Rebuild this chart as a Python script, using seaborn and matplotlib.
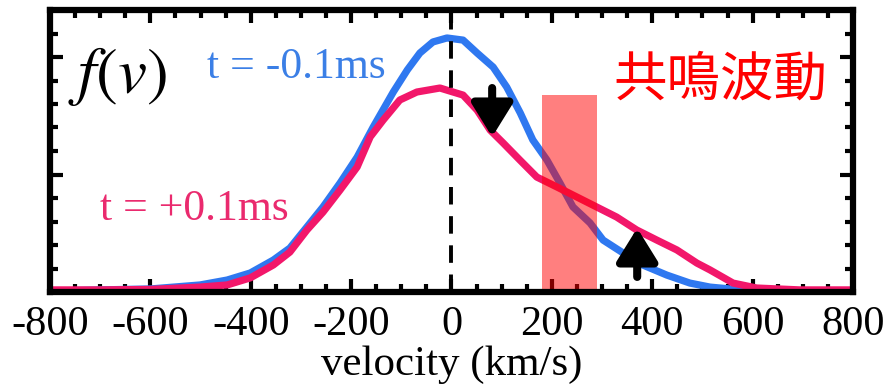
import numpy as np
import pandas as pd
import matplotlib
matplotlib.use("Agg")
import matplotlib.pyplot as plt
from matplotlib.ticker import MultipleLocator
import seaborn as sns

# ---- data ----
velocity_before = [-800, -700, -600, -501, -447, -401, -355, -322, -288, -256, -222, -188,
                   -156, -116, -88, -63, -37, -9, 23, 51, 83, 110, 137, 162, 190, 216,
                   242, 276, 302, 342, 381, 429, 475, 515, 575, 694, 800]
f_before = [0.004, 0.009, 0.013, 0.030, 0.051, 0.081, 0.136, 0.187, 0.277, 0.362, 0.464, 0.574,
            0.702, 0.851, 0.945, 1.017, 1.064, 1.081, 1.072, 1.017, 0.957, 0.872, 0.762, 0.647,
            0.562, 0.464, 0.362, 0.294, 0.221, 0.166, 0.115, 0.072, 0.038, 0.021, 0.009, 0.004, 0.004]

velocity_after = [-800, -700, -600, -501, -447, -401, -355, -322, -288, -256, -222, -188,
                  -162, -136, -103, -69, -23, 3, 23, 51, 77, 103, 136, 170, 210, 250,
                  289, 329, 369, 409, 449, 489, 515, 561, 608, 694, 800]
f_after = [0.009, 0.009, 0.011, 0.021, 0.030, 0.060, 0.115, 0.170, 0.264, 0.340, 0.434, 0.532,
           0.660, 0.732, 0.817, 0.851, 0.868, 0.851, 0.838, 0.774, 0.689, 0.634, 0.562, 0.489,
           0.447, 0.404, 0.362, 0.319, 0.264, 0.221, 0.179, 0.123, 0.094, 0.038, 0.017, 0.009, 0.009]

series_labels = ["t = -0.1ms", "t = +0.1ms"]
series_colors = ["#2f78f0", "#f2176a"]
xtick_values = [-800, -600, -400, -200, 0, 200, 400, 600, 800]
resonance_band = [180, 290]
resonance_top = 0.84
arrow_down = {"x": 81, "from": 0.868, "to": 0.66}
arrow_up = {"x": 370, "from": 0.064, "to": 0.272}

df = pd.concat([
    pd.DataFrame({"velocity": velocity_before, "f": f_before, "time": series_labels[0]}),
    pd.DataFrame({"velocity": velocity_after, "f": f_after, "time": series_labels[1]}),
], ignore_index=True)

sns.set_theme(style="ticks")
plt.rcParams["font.family"] = ["Liberation Serif", "DejaVu Serif"]
plt.rcParams["axes.unicode_minus"] = False
plt.rcParams["text.color"] = "black"
plt.rcParams["axes.labelcolor"] = "black"

fig = plt.figure(figsize=(8.95, 3.85), dpi=100)
ax = fig.add_axes([50 / 895, 1 - 292 / 385, (853 - 50) / 895, (292 - 10) / 385])

sns.lineplot(data=df, x="velocity", y="f", hue="time", palette=series_colors,
             linewidth=5.2, legend=False, ax=ax, sort=False, zorder=2)

ax.axvline(0, color="black", linewidth=2.8, dashes=(4.5, 3.0), zorder=3)

ax.add_patch(plt.Rectangle((resonance_band[0], -0.008), resonance_band[1] - resonance_band[0],
                           resonance_top + 0.008, facecolor="#ff0000", alpha=0.5,
                           edgecolor="none", zorder=4, clip_on=False))

for arr in (arrow_down, arrow_up):
    ax.annotate("", xy=(arr["x"], arr["to"]), xytext=(arr["x"], arr["from"]),
                arrowprops=dict(arrowstyle="-|>,head_length=1.0,head_width=0.62",
                                mutation_scale=20, color="black", linewidth=5.8,
                                shrinkA=0, shrinkB=0), zorder=5)

ax.set_xlim(-800, 800)
ax.set_ylim(0, 1.2)
ax.set_xticks(xtick_values)
ax.set_xticklabels([str(v) for v in xtick_values])
ax.xaxis.set_minor_locator(MultipleLocator(50))
ax.yaxis.set_major_locator(MultipleLocator(0.5))
ax.yaxis.set_minor_locator(MultipleLocator(0.1))
ax.set_yticklabels([])
ax.set_ylabel("")
ax.set_xlabel("velocity (km/s)", fontsize=31, labelpad=1, color="black")

ax.tick_params(which="both", direction="in", top=True, right=True, width=3.0,
               color="black", labelcolor="black")
ax.tick_params(which="major", length=9.5, labelsize=30.5, pad=10)
ax.tick_params(which="minor", length=6.0)
for s in ax.spines.values():
    s.set_linewidth(4.5)
    s.set_color("black")
    s.set_zorder(6)

ax.text(-765, 0.847, r"$f(v)$", fontsize=47, ha="left", va="baseline", color="black",
        math_fontfamily="stix")
ax.text(-487, 0.91, series_labels[0], fontsize=31.5, ha="left", va="baseline",
        color="#3b7fe6")
ax.text(-700, 0.306, series_labels[1], fontsize=31.5, ha="left", va="baseline",
        color="#ea2a6e")
ax.text(322, 0.902, "共鳴波動", fontsize=38.5, ha="left", va="center", color="#ff0000",
        family=["Noto Sans CJK TC", "DejaVu Sans"])

fig.savefig("out.png", dpi=100)
